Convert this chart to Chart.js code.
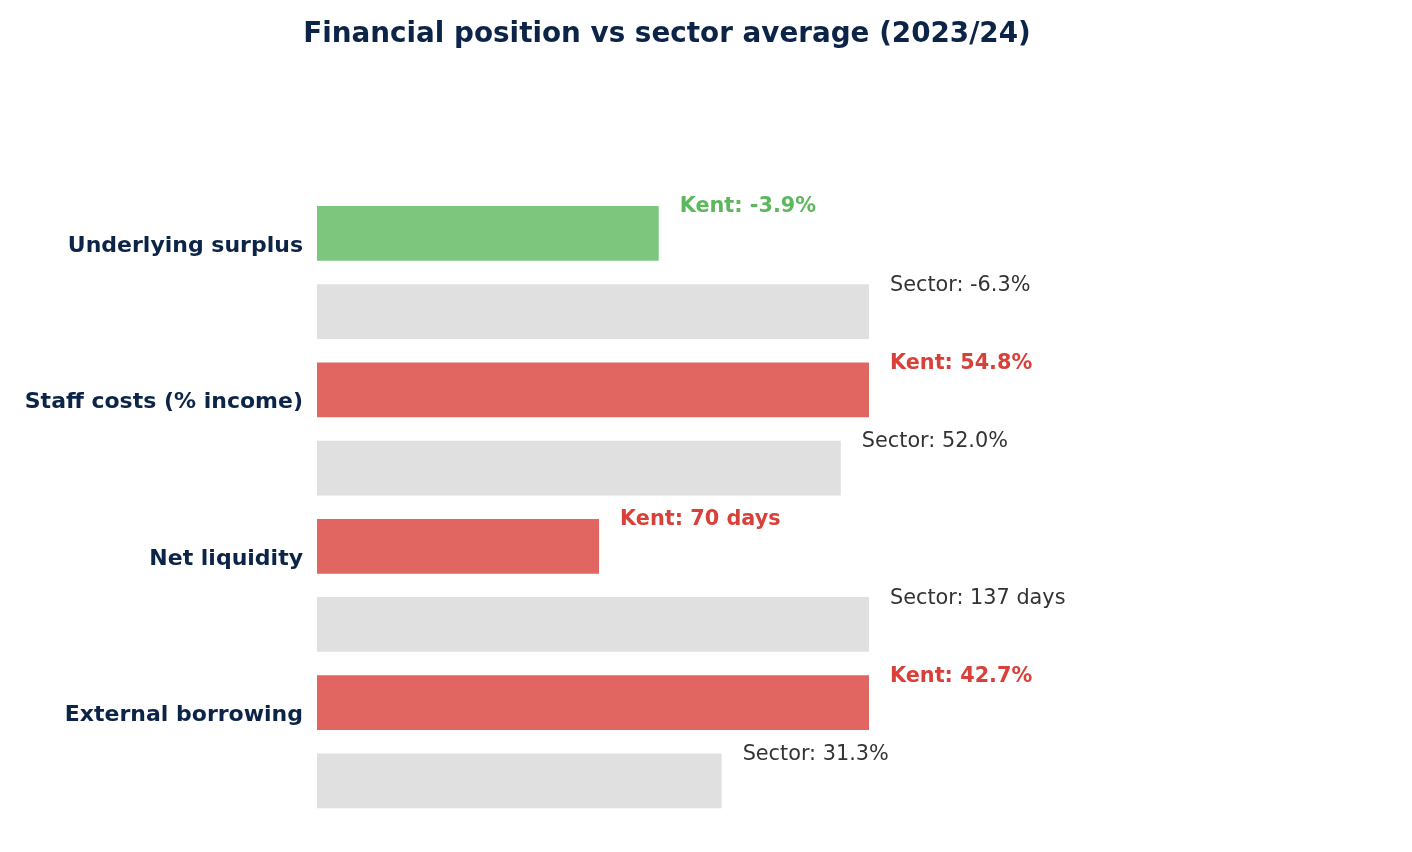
<!DOCTYPE html>
<html>
<head>
<meta charset="utf-8">
<script src="https://cdn.jsdelivr.net/npm/chart.js@4"></script>
<style>
  html, body { margin: 0; padding: 0; background: #fff; }
  #wrap { width: 1412px; height: 852px; }
</style>
</head>
<body>
<div id="wrap"><canvas id="chart"></canvas></div>
<script>
// metrics and values (Kent vs sector average)
const categories = ['Underlying surplus', 'Staff costs (% income)', 'Net liquidity', 'External borrowing'];
const kentValues = [-3.9, 54.8, 70, 42.7];
const sectorValues = [-6.3, 52.0, 137, 31.3];
const units = ['%', '%', ' days', '%'];
const kentGood = [true, false, false, false];

const GREEN = '#5cb85c';
const RED = '#d9403a';
const NAVY = '#0b2447';

// each pair is scaled so that the larger absolute value fills the bar
const rowLabels = [];
const barData = [];
const barColors = [];
const valueTexts = [];
categories.forEach((cat, i) => {
    const top = Math.max(Math.abs(kentValues[i]), Math.abs(sectorValues[i]));
    rowLabels.push(cat, '');
    barData.push(Math.abs(kentValues[i]) / top * 100, Math.abs(sectorValues[i]) / top * 100);
    barColors.push(kentGood[i] ? 'rgba(92,184,92,0.8)' : 'rgba(217,64,58,0.8)', '#e0e0e0');
    const fmt = v => (units[i] === '%' ? v.toFixed(1) : String(v)) + units[i];
    valueTexts.push({ text: 'Kent: ' + fmt(kentValues[i]), bold: true, color: kentGood[i] ? GREEN : RED });
    valueTexts.push({ text: 'Sector: ' + fmt(sectorValues[i]), bold: false, color: '#333333' });
});

const valueLabels = {
    id: 'valueLabels',
    afterDatasetsDraw(chart) {
        const ctx = chart.ctx;
        const meta = chart.getDatasetMeta(0);
        ctx.save();
        ctx.textAlign = 'left';
        ctx.textBaseline = 'middle';
        meta.data.forEach((bar, idx) => {
            const lbl = valueTexts[idx];
            ctx.font = (lbl.bold ? 'bold ' : '') + '20.8px "DejaVu Sans"';
            ctx.fillStyle = lbl.color;
            ctx.fillText(lbl.text, bar.x + 21, bar.y - bar.height / 2 + 1);
        });
        ctx.restore();
    }
};

new Chart(document.getElementById('chart'), {
    type: 'bar',
    data: {
        labels: rowLabels,
        datasets: [{
            data: barData,
            backgroundColor: barColors,
            borderWidth: 0,
            barPercentage: 0.7,
            categoryPercentage: 1.0
        }]
    },
    options: {
        indexAxis: 'y',
        responsive: true,
        maintainAspectRatio: false,
        animation: false,
        layout: { padding: { left: 0, right: 78, top: 0, bottom: 32 } },
        scales: {
            x: {
                display: false,
                min: 0,
                max: 184.24
            },
            y: {
                grid: { display: false },
                border: { display: false },
                ticks: {
                    autoSkip: false,
                    padding: 6,
                    labelOffset: 12.5,
                    color: NAVY,
                    font: { family: 'DejaVu Sans', size: 22, weight: 'bold' }
                },
                afterFit(scale) { scale.width = 317; }
            }
        },
        plugins: {
            legend: { display: false },
            tooltip: { enabled: false },
            title: {
                display: true,
                text: 'Financial position vs sector average (2023/24)',
                color: NAVY,
                font: { family: 'DejaVu Sans', size: 27.8, weight: 'bold' },
                padding: { top: 18, bottom: 143 }
            }
        }
    },
    plugins: [valueLabels]
});
</script>
</body>
</html>
